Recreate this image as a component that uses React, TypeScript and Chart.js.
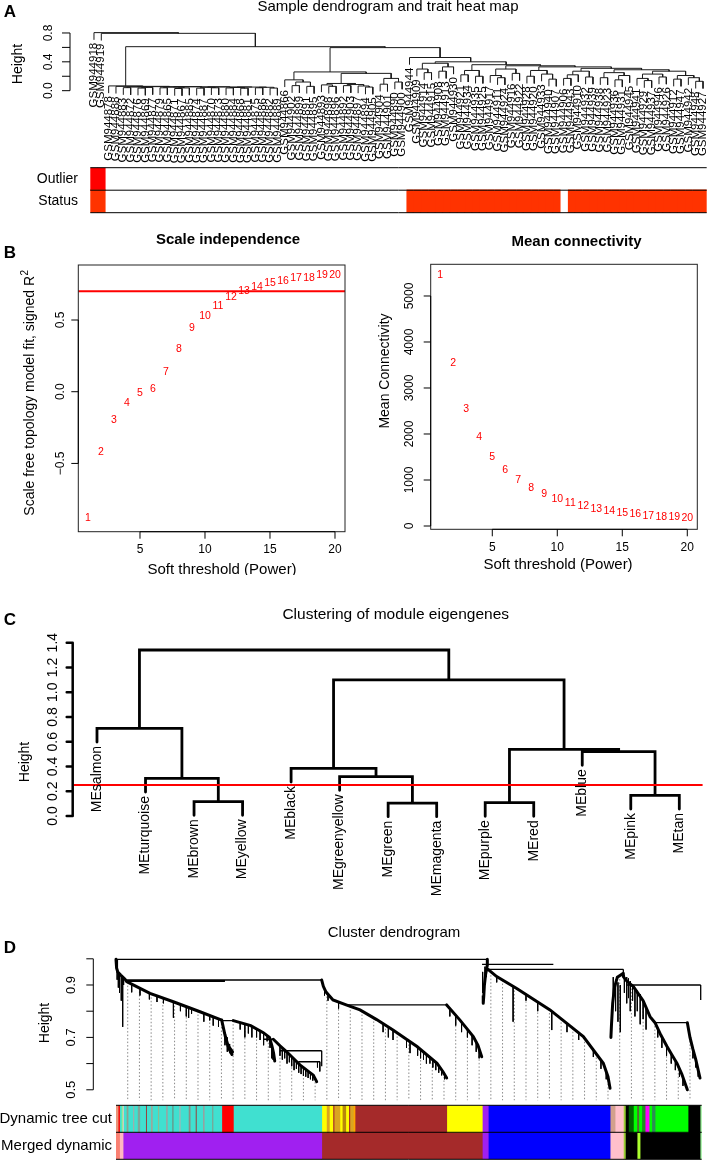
import React, { useEffect, useRef } from "react";
import { Chart, registerables } from "chart.js";

Chart.register(...registerables);

const FONT = '"Liberation Sans", Arial, Helvetica, sans-serif';
Chart.defaults.font.family = FONT;

/* ====================== Panel A data ====================== */
const sampleLabels: string[] = [
  "GSM944918", "GSM944919",
  "GSM944878", "GSM944888", "GSM944883", "GSM944872", "GSM944876", "GSM944869",
  "GSM944877", "GSM944879", "GSM944865", "GSM944871", "GSM944867", "GSM944885",
  "GSM944874", "GSM944887", "GSM944870", "GSM944873", "GSM944880", "GSM944884",
  "GSM944868", "GSM944881", "GSM944875", "GSM944886", "GSM944882", "GSM944889",
  "GSM944866", "GSM944902", "GSM944899", "GSM944891", "GSM944895", "GSM944893",
  "GSM944898", "GSM944896", "GSM944892", "GSM944903", "GSM944897", "GSM944894",
  "GSM944905", "GSM944904", "GSM944901", "GSM944890", "GSM944900",
  "GSM944944", "GSM944909", "GSM944914", "GSM944915", "GSM944908", "GSM944913",
  "GSM944930", "GSM944921", "GSM944934", "GSM944935", "GSM944925", "GSM944917",
  "GSM944911", "GSM944924", "GSM944916", "GSM944922", "GSM944928", "GSM944920",
  "GSM944933", "GSM944940", "GSM944907", "GSM944906", "GSM944943", "GSM944910",
  "GSM944932", "GSM944939", "GSM944938", "GSM944923", "GSM944936", "GSM944931",
  "GSM944945", "GSM944941", "GSM944929", "GSM944937", "GSM944946", "GSM944926",
  "GSM944912", "GSM944947", "GSM944942", "GSM944948", "GSM944927",
];

// sample tree: [height, left, right]; leaves are positions in sampleLabels
const sampleTree: any = [0.805, 0, [0.795, 1,
  [0.61,
    [0.066, 2, [0.06, 3, [0.056,
      [0.05, [0.042, 4, 5], [0.045, [0.036, 6, 7], 8]],
      [0.054, [0.048, [0.04, 9, 10], [0.038, [0.03, 11, 12], 13]],
        [0.052, [0.046, [0.035, 14, 15], [0.04, 16, 17]],
          [0.05, [0.044, [0.038, 18, 19], [0.034, 20, 21]],
            [0.047, [0.04, 22, 23], [0.036, 24, 25]]]]]]]],
    [0.597,
      [0.26, [0.15, 26, [0.12, [0.07, 27, 28], [0.06, 29, 30]]],
        [0.24, [0.10, [0.08, 31, [0.06, 32, 33]], [0.085, [0.07, 34, 35], [0.065, 36, [0.05, 37, 38]]]],
          [0.17, [0.09, 39, 40], [0.12, 41, 42]]]],
      [0.46, 43, [0.40,
        [0.38, [0.30, 44, [0.25, 45, 46]], [0.33, [0.27, 47, 48], 49]],
        [0.36, [0.28, [0.22, 50, 51], [0.2, 52, 53]],
          [0.345, [0.30, [0.21, 54, [0.18, 55, 56]], [0.24, 57, 58]],
            [0.33, [0.28, [0.2, 59, 60], [0.23, 61, [0.16, 62, 63]]],
              [0.31, [0.27, [0.22, [0.17, 64, 65], 66], [0.19, 67, 68]],
                [0.29, [0.25, [0.18, 69, 70], [0.21, [0.15, 71, 72], 73]],
                  [0.27, [0.23, [0.17, 74, [0.14, 75, 76]], [0.19, 77, 78]],
                    [0.21, [0.16, 79, 80], [0.18, 81, [0.13, 82, 83]]]]]]]]]]]]]]];
const sampleHang = 0.1;
const sampleAxisTicks = [0, 0.2, 0.4, 0.6, 0.8];
const sampleAxisLabels = ["0.0", "", "0.4", "", "0.8"];

const traitRows = ["Outlier", "Status"];
const sampleOutlier = [
  1, 1,
  0, 0, 0, 0, 0, 0, 0, 0, 0, 0, 0, 0, 0, 0, 0, 0, 0, 0, 0, 0, 0, 0, 0, 0,
  0, 0, 0, 0, 0, 0, 0, 0, 0, 0, 0, 0, 0, 0, 0, 0, 0,
  0, 0, 0, 0, 0, 0, 0, 0, 0, 0, 0, 0, 0, 0, 0, 0, 0, 0, 0, 0, 0,
  0, 0, 0, 0, 0, 0, 0, 0, 0, 0, 0, 0, 0, 0, 0, 0, 0, 0, 0, 0,
];
const sampleStatus = [
  1, 1,
  0, 0, 0, 0, 0, 0, 0, 0, 0, 0, 0, 0, 0, 0, 0, 0, 0, 0, 0, 0, 0, 0, 0, 0,
  0, 0, 0, 0, 0, 0, 0, 0, 0, 0, 0, 0, 0, 0, 0, 0, 0,
  1, 1, 1, 1, 1, 1, 1, 1, 1, 1, 1, 1, 1, 1, 1, 1, 1, 1, 1, 1, 1,
  0, 1, 1, 1, 1, 1, 1, 1, 1, 1, 1, 1, 1, 1, 1, 1, 1, 1, 1, 1,
];
const outlierColor = "#FF0000";
const statusColor = "#FF3300";

/* ====================== Panel B data ====================== */
const powers = [1, 2, 3, 4, 5, 6, 7, 8, 9, 10, 11, 12, 13, 14, 15, 16, 17, 18, 19, 20];
const scaleFreeFit = [-0.88, -0.42, -0.2, -0.08, -0.01, 0.02, 0.14, 0.3, 0.44, 0.53,
  0.6, 0.66, 0.7, 0.73, 0.76, 0.77, 0.79, 0.795, 0.81, 0.815];
const meanConnectivity = [5457, 3551, 2543, 1928, 1507, 1217, 1000, 819, 688, 594,
  507, 435, 377, 326, 290, 254, 225, 203, 188, 167];
const fitCutoff = 0.7;
const powerTicks = [5, 10, 15, 20];
const fitTicks = [-0.5, 0, 0.5];
const fitTickLabels = ["\u22120.5", "0.0", "0.5"];
const connTicks = [0, 1000, 2000, 3000, 4000, 5000];

/* ====================== Panel C data ====================== */
const moduleLabels = ["MEsalmon", "MEturquoise", "MEbrown", "MEyellow", "MEblack", "MEgreenyellow",
  "MEgreen", "MEmagenta", "MEpurple", "MEred", "MEblue", "MEpink", "MEtan"];
const moduleTree: any = [1.341,
  [0.708, 0, [0.304, 1, [0.116, 2, 3]]],
  [1.099,
    [0.385, 4, [0.318, 5, [0.105, 6, 7]]],
    [0.539, [0.108, 8, 9], [0.52, 10, [0.167, 11, 12]]]]];
const moduleHang = 0.11;
const mergeCutHeight = 0.25;
const moduleAxisTicks = [0, 0.2, 0.4, 0.6, 0.8, 1.0, 1.2, 1.4];
const moduleAxisLabels = ["0.0", "0.2", "0.4", "0.6", "0.8", "1.0", "1.2", "1.4"];

/* ====================== Panel D data ====================== */
// gene index (0..1000 along the leaf order), height
const geneMergeLines: number[][][] = [
  [[0, 0.998], [634, 0.998]],
  [[15.4, 0.919], [351.2, 0.919]],
  [[18, 0.914], [186, 0.914]],
  [[180.5, 0.764], [200.3, 0.764]],
  [[251.5, 0.693], [268.6, 0.693]],
  [[280, 0.649], [351.2, 0.649]],
  [[311.3, 0.607], [348.3, 0.607]],
  [[351.2, 0.649], [351.2, 0.59]],
  [[393, 0.824], [564.6, 0.824]],
  [[625, 0.979], [746.7, 0.979]],
  [[630, 0.96], [866.2, 0.96]],
  [[866.2, 0.96], [866.2, 0.932]],
  [[872, 0.9], [998.3, 0.9]],
  [[998.3, 0.9], [998.3, 0.843]],
  [[920.3, 0.756], [975.5, 0.756]],
];
const geneBranchLines: number[][][] = [
  [[0, 0.998], [1, 0.965], [3, 0.95], [8, 0.938], [15.4, 0.922], [18.3, 0.913]],
  [[18.3, 0.913], [58.1, 0.868], [97.8, 0.836], [143.4, 0.798], [180.5, 0.766]],
  [[180.5, 0.766], [184, 0.73], [188, 0.69], [193, 0.655], [198, 0.635]],
  [[181, 0.76], [186, 0.71], [191, 0.67], [199, 0.645]],
  [[200.3, 0.764], [230, 0.745], [251.5, 0.718], [262, 0.7], [266, 0.67], [269, 0.64], [271, 0.61]],
  [[268.6, 0.693], [280, 0.668], [291.4, 0.645], [314, 0.595], [336.9, 0.556], [342.6, 0.531]],
  [[351.2, 0.919], [354, 0.895], [358.6, 0.873], [370.5, 0.843], [393, 0.824], [416.6, 0.805],
    [445, 0.768], [472.9, 0.728], [513.9, 0.665], [548.1, 0.601], [558, 0.57], [564.6, 0.545]],
  [[564.6, 0.824], [587.3, 0.766], [610, 0.703], [618, 0.67], [624.4, 0.626]],
  [[634, 0.998], [634, 0.976], [631, 0.94], [629, 0.9], [628, 0.86], [627, 0.83]],
  [[635.2, 0.96], [650, 0.932], [684.2, 0.887], [741, 0.805], [797.9, 0.703], [832, 0.601],
    [840, 0.55], [843.5, 0.506]],
  [[866.2, 0.945], [856, 0.93], [851, 0.89], [848, 0.83], [846, 0.75], [845, 0.7]],
  [[866.2, 0.932], [872, 0.915], [883.3, 0.894], [900, 0.84], [911.8, 0.779], [920.3, 0.756]],
  [[920.3, 0.756], [930, 0.71], [940.8, 0.665], [950, 0.63], [957.9, 0.601], [966, 0.56], [975.5, 0.5]],
  [[975.5, 0.756], [980, 0.7], [985, 0.655], [990, 0.614], [997.1, 0.545]],
];
// [gene index, top height, bottom height]
const geneHangs: number[][] = [
  [2, 0.96, 0.92], [4, 0.948, 0.89], [6, 0.944, 0.87], [9, 0.937, 0.84], [11.4, 0.932, 0.74], [13, 0.928, 0.9],
  [26.8, 0.905, 0.872], [41, 0.888, 0.86], [57, 0.87, 0.845], [70, 0.858, 0.835], [81, 0.85, 0.83],
  [98, 0.836, 0.775], [110, 0.828, 0.8], [120, 0.82, 0.78], [124, 0.817, 0.774], [129, 0.811, 0.79],
  [150, 0.793, 0.76], [160, 0.785, 0.765], [166, 0.78, 0.745], [175, 0.771, 0.74],
  [186, 0.72, 0.67], [190, 0.7, 0.645], [194, 0.675, 0.64],
  [212, 0.757, 0.73], [220, 0.751, 0.7], [226, 0.747, 0.715], [232, 0.743, 0.7], [240, 0.733, 0.7],
  [246, 0.727, 0.69], [252, 0.718, 0.67], [258, 0.708, 0.685], [263, 0.7, 0.66], [266, 0.672, 0.62],
  [268, 0.655, 0.615],
  [280, 0.668, 0.63], [284, 0.66, 0.615], [288, 0.652, 0.62], [292, 0.643, 0.6], [296, 0.635, 0.605],
  [300, 0.626, 0.59], [304, 0.617, 0.575], [308, 0.609, 0.58], [312, 0.6, 0.565], [316, 0.592, 0.56],
  [320, 0.585, 0.553], [324, 0.578, 0.55], [328, 0.571, 0.545], [332, 0.564, 0.54], [336, 0.558, 0.535],
  [344, 0.607, 0.585], [348, 0.607, 0.57],
  [356, 0.886, 0.86], [362, 0.862, 0.84], [380, 0.837, 0.81], [456, 0.752, 0.72], [465, 0.74, 0.7],
  [473, 0.728, 0.69], [496, 0.692, 0.66], [502, 0.683, 0.64], [515, 0.663, 0.63], [520, 0.655, 0.62],
  [525, 0.647, 0.615], [530, 0.638, 0.6], [536, 0.627, 0.6], [541, 0.617, 0.585], [546, 0.606, 0.575],
  [551, 0.593, 0.565], [556, 0.577, 0.555], [561, 0.56, 0.54],
  [570, 0.81, 0.78], [580, 0.784, 0.745], [590, 0.758, 0.72], [600, 0.731, 0.7], [608, 0.709, 0.67],
  [615, 0.683, 0.645], [620, 0.66, 0.62],
  [626, 0.95, 0.87], [630, 0.97, 0.9], [632, 0.96, 0.93],
  [650, 0.932, 0.91], [678, 0.895, 0.76], [700, 0.865, 0.84], [720, 0.835, 0.8], [744, 0.8, 0.728],
  [770, 0.752, 0.72], [790, 0.717, 0.69], [815, 0.653, 0.625], [828, 0.61, 0.58], [837, 0.57, 0.54],
  [849, 0.93, 0.85], [853, 0.92, 0.8], [857, 0.91, 0.76], [861, 0.9, 0.72],
  [868, 0.94, 0.87], [872, 0.93, 0.83], [875, 0.925, 0.85], [878, 0.915, 0.8], [882, 0.9, 0.84],
  [886, 0.887, 0.78], [890, 0.878, 0.8], [895, 0.865, 0.75], [900, 0.84, 0.77], [905, 0.815, 0.73],
  [925, 0.733, 0.7], [932, 0.7, 0.66], [940, 0.668, 0.63], [948, 0.638, 0.6], [955, 0.611, 0.575],
  [962, 0.58, 0.55], [968, 0.545, 0.515],
  [985, 0.655, 0.62], [990, 0.614, 0.585], [994, 0.58, 0.55],
];
const guideGenes = [20, 40, 60, 80, 100, 120, 140, 160, 180, 200, 220, 240, 260, 280, 300, 320, 340,
  360, 380, 400, 420, 440, 460, 480, 500, 520, 540, 560, 580, 600, 620, 640, 660, 680, 700, 720, 740,
  760, 780, 800, 820, 840, 860, 880, 900, 920, 940, 960, 980];
const guideBottom = 0.46;
const geneAxisTicks = [0.5, 0.6, 0.7, 0.8, 0.9, 1.0];
const geneAxisLabels = ["0.5", "", "0.7", "", "0.9", ""];

const colorRows = ["Dynamic tree cut", "Merged dynamic"];
const dynamicColors = ["#E9967A", "#FF0000", "#40E0D0", "#90EE90", "#FFC0CB", "#40E0D0", "#8E9E8E", "#40E0D0",
  "#A9A9A9", "#40E0D0", "#7FA59A", "#40E0D0", "#A52A2A", "#40E0D0", "#9AA89C", "#40E0D0", "#8FBC8F",
  "#40E0D0", "#A0A0A0", "#40E0D0", "#6E8B7E", "#40E0D0", "#B0B0B0", "#40E0D0", "#8B8B83", "#40E0D0",
  "#A52A2A", "#40E0D0", "#9C9C9C", "#40E0D0", "#7F9F8F", "#40E0D0",
  "#FF0000", "#40E0D0",
  "#FFFF00", "#DAA520", "#FFFF00", "#A52A2A", "#DAA520", "#FFFF00", "#B8860B", "#FFFF00", "#A52A2A",
  "#DAA520", "#FFA500",
  "#A52A2A", "#FFFF00", "#A020F0", "#0000FF", "#D2A08C", "#FFC0CB",
  "#9ACD32", "#000000", "#006400", "#00FF00", "#556B2F", "#00FF00", "#228B22", "#FF00FF",
  "#00FF00", "#2E8B57", "#00FF00", "#000000", "#90EE90"];
const dynamicWidths = [3.5, 2.5, 3, 2, 1.5, 5, 3, 8, 2, 6, 4, 10, 1.5, 7, 3, 9, 2, 12, 2.5, 8, 2, 10, 2, 14,
  3, 9, 1.5, 11, 2.5, 13, 2, 15,
  19.8, 150.9,
  8, 5, 6, 2, 10, 4, 6, 5, 2, 6, 2.8,
  156.6, 60.7, 10.2, 208, 8.5, 14.2,
  3.4, 5.2, 8.5, 5.8, 3.4, 5.1, 5.7, 6.8,
  4.5, 5.7, 56.3, 20.5, 2.9];
const mergedColors = ["#FA8072", "#FFB6C1", "#A020F0", "#A52A2A", "#A020F0", "#0000FF", "#FFC0CB",
  "#9ACD32", "#000000", "#ADFF2F", "#000000", "#90EE90"];
const mergedWidths = [6, 6, 339.2, 274.1, 10.2, 208, 22.7, 3.4, 20, 5.1, 102.4, 2.9];

/* ====================== helpers ====================== */
type Tree = number | [number, Tree, Tree];
function layoutTree(tree: Tree, hang: number) {
  const pts: { x: number; y: number | null }[] = [];
  const leafEnd: number[] = [];
  const walk = (n: Tree): { x: number; h: number | null } => {
    if (typeof n === "number") return { x: n, h: null };
    const [h, l, r] = n;
    const a = walk(l);
    const b = walk(r);
    const ya = a.h === null ? h - hang : a.h;
    const yb = b.h === null ? h - hang : b.h;
    if (a.h === null) leafEnd[a.x] = ya;
    if (b.h === null) leafEnd[b.x] = yb;
    pts.push({ x: a.x, y: ya }, { x: a.x, y: h }, { x: b.x, y: h }, { x: b.x, y: yb }, { x: b.x, y: null });
    return { x: (a.x + b.x) / 2, h };
  };
  walk(tree);
  return { pts, leafEnd };
}
const linesToPts = (lines: number[][][]) =>
  lines.flatMap((l) => [...l.map(([x, y]) => ({ x, y } as any)), { x: l[l.length - 1][0], y: null }]);
const hangsToPts = (hs: number[][]) => hs.flatMap(([x, t, b]) => [{ x, y: t }, { x, y: b }, { x, y: null as any }]);
function levelAt(g: number, lines: number[][][]) {
  let best = Infinity;
  for (const line of lines)
    for (let k = 0; k < line.length - 1; k++) {
      const [x1, y1] = line[k];
      const [x2, y2] = line[k + 1];
      const lo = Math.min(x1, x2), hi = Math.max(x1, x2);
      if (hi > lo && g >= lo && g <= hi) {
        const y = y1 + ((y2 - y1) * (g - x1)) / (x2 - x1);
        if (y < best) best = y;
      }
    }
  return best;
}

const UP = -Math.PI / 2;
function text(ctx: any, s: string, x: number, y: number, o: any) {
  ctx.save();
  ctx.font = `${o.bold ? "bold " : ""}${o.size}px ${FONT}`;
  ctx.fillStyle = o.color ?? "#000";
  ctx.textAlign = o.align ?? "center";
  ctx.textBaseline = o.baseline ?? "middle";
  ctx.translate(x, y);
  if (o.rot) ctx.rotate(o.rot);
  ctx.fillText(s, 0, 0);
  ctx.restore();
}
function axisY(ctx: any, scale: any, x: number, ticks: number[], labels: string[], o: any) {
  const p = ticks.map((t) => scale.getPixelForValue(t));
  ctx.save();
  ctx.strokeStyle = "#000";
  ctx.lineWidth = o.lw ?? 1;
  ctx.lineCap = o.cap ?? "butt";
  ctx.beginPath();
  ctx.moveTo(x, p[0]);
  ctx.lineTo(x, p[p.length - 1]);
  for (const py of p) { ctx.moveTo(x, py); ctx.lineTo(x - o.tick, py); }
  ctx.stroke();
  ctx.restore();
  labels.forEach((s, i) => { if (s) text(ctx, s, o.labelX, p[i], { size: o.size, rot: UP }); });
}
function axisX(ctx: any, scale: any, y: number, ticks: number[], labels: string[], o: any) {
  const p = ticks.map((t) => scale.getPixelForValue(t));
  ctx.save();
  ctx.strokeStyle = "#000";
  ctx.lineWidth = 1;
  ctx.beginPath();
  ctx.moveTo(p[0], y);
  ctx.lineTo(p[p.length - 1], y);
  for (const px of p) { ctx.moveTo(px, y); ctx.lineTo(px, y + o.tick); }
  ctx.stroke();
  ctx.restore();
  labels.forEach((s, i) => text(ctx, s, p[i], o.labelY, { size: o.size }));
}
function box(ctx: any, a: any) {
  ctx.save();
  ctx.strokeStyle = "#222";
  ctx.lineWidth = 1;
  ctx.strokeRect(a.left, a.top, a.right - a.left, a.bottom - a.top);
  ctx.restore();
}
const overlay = (draw: (ctx: any, chart: any) => void) => ({
  id: "overlay",
  afterDraw(chart: any) { draw(chart.ctx, chart); },
});
// row separators + row names for colour strips (names placed via the category scale)
const rowDecor = (labelRight: number, size: number) => ({
  id: "rowDecor",
  afterDatasetsDraw(chart: any) {
    const { ctx, chartArea: a } = chart;
    const labels: string[] = chart.data.labels;
    const n = labels.length;
    ctx.save();
    ctx.strokeStyle = "#000";
    ctx.lineWidth = 1;
    ctx.beginPath();
    for (let i = 0; i <= n; i++) {
      const yy = a.top + ((a.bottom - a.top) * i) / n;
      ctx.moveTo(a.left, yy);
      ctx.lineTo(a.right, yy);
    }
    ctx.stroke();
    ctx.restore();
    labels.forEach((s, i) =>
      text(ctx, s, labelRight, chart.scales.y.getPixelForValue(i), { size, align: "right" }));
  },
});
const common = (padding: any) => ({
  animation: false,
  responsive: false,
  events: [],
  layout: { padding },
  plugins: { legend: { display: false }, tooltip: { enabled: false }, title: { display: false } },
});
const lineDs = (data: any[], color: string, width: number, extra: any = {}) => ({
  data, showLine: true, borderColor: color, borderWidth: width, pointRadius: 0, clip: false,
  borderCapStyle: "round", ...extra,
});

/* ====================== chart configs ====================== */
function configA1(top: number) {
  const { pts, leafEnd } = layoutTree(sampleTree, sampleHang);
  const Y = (v: number) => v - top;
  return {
    type: "scatter",
    data: { datasets: [lineDs(pts, "#1a1a1a", 1, { borderCapStyle: "butt" })] },
    options: {
      ...common({ left: 90.3, right: 2.3, top: 20, bottom: 70 }),
      scales: {
        x: { type: "linear", min: -0.5, max: sampleLabels.length - 0.5, display: false },
        y: { type: "linear", min: -0.06, max: 0.98, display: false },
      },
    },
    plugins: [overlay((ctx, chart) => {
      const { x, y } = chart.scales;
      text(ctx, "Sample dendrogram and trait heat map", 388, Y(6.5), { size: 15 });
      text(ctx, "A", 10, Y(12), { size: 17, bold: true });
      text(ctx, "Height", 18, Y(64), { size: 14, rot: UP });
      axisY(ctx, y, 70, sampleAxisTicks, sampleAxisLabels, { tick: 8, labelX: 49, size: 12 });
      sampleLabels.forEach((s, i) => {
        text(ctx, s, x.getPixelForValue(i), y.getPixelForValue(leafEnd[i]) + 3,
          { size: 11.5, rot: UP, align: "right" });
      });
    })],
  };
}

function configA2() {
  return {
    type: "bar",
    data: {
      labels: traitRows,
      datasets: sampleLabels.map((s, i) => ({
        label: s,
        data: [1, 1],
        backgroundColor: [sampleOutlier[i] ? outlierColor : "#FFFFFF", sampleStatus[i] ? statusColor : "#FFFFFF"],
        borderWidth: 0,
        inflateAmount: 0.6,
        categoryPercentage: 1,
        barPercentage: 1,
      })),
    },
    options: {
      ...common({ left: 90.3, right: 2.3, top: 7.7, bottom: 7.3 }),
      indexAxis: "y",
      scales: {
        x: { type: "linear", stacked: true, min: 0, max: sampleLabels.length, display: false },
        y: { type: "category", stacked: true, display: false },
      },
    },
    plugins: [rowDecor(78, 14)],
  };
}

function configBLeft(top: number) {
  const Y = (v: number) => v - top;
  const xmin = 0.254, xmax = 20.77;
  return {
    type: "scatter",
    data: {
      datasets: [
        lineDs([{ x: xmin, y: fitCutoff }, { x: xmax, y: fitCutoff }], "#FF0000", 2, { borderCapStyle: "butt" }),
        { data: powers.map((p, i) => ({ x: p, y: scaleFreeFit[i] })), pointRadius: 0, showLine: false },
      ],
    },
    options: {
      ...common({ left: 78.3, right: 364, top: 40, bottom: 43.3 }),
      scales: {
        x: { type: "linear", min: xmin, max: xmax, display: false },
        y: { type: "linear", min: -0.976, max: 0.8835, display: false },
      },
    },
    plugins: [overlay((ctx, chart) => {
      const a = chart.chartArea;
      const { x, y } = chart.scales;
      box(ctx, a);
      axisX(ctx, x, a.bottom, powerTicks, powerTicks.map(String), { tick: 7, labelY: Y(550), size: 12 });
      axisY(ctx, y, a.left, fitTicks, fitTickLabels, { tick: 7, labelX: 61, size: 12 });
      chart.getDatasetMeta(1).data.forEach((el: any, i: number) =>
        text(ctx, String(powers[i]), el.x, el.y, { size: 10.5, color: "#FF0000" }));
      text(ctx, "Scale independence", 228, Y(240), { size: 15, bold: true });
      text(ctx, "B", 10, Y(253), { size: 17, bold: true });
      text(ctx, "Soft threshold (Power)", 222, Y(570), { size: 15 });
      // y label with superscript
      ctx.save();
      ctx.translate(30, Y(393));
      ctx.rotate(UP);
      ctx.fillStyle = "#000";
      ctx.textBaseline = "middle";
      ctx.font = `14px ${FONT}`;
      const main = "Scale free topology model fit, signed R";
      const w1 = ctx.measureText(main).width;
      ctx.font = `10px ${FONT}`;
      const w2 = ctx.measureText("2").width;
      const start = -(w1 + w2) / 2;
      ctx.font = `14px ${FONT}`;
      ctx.textAlign = "left";
      ctx.fillText(main, start, 0);
      ctx.font = `10px ${FONT}`;
      ctx.fillText("2", start + w1 + 0.5, -5);
      ctx.restore();
    })],
  };
}

function configBRight(top: number) {
  const Y = (v: number) => v - top;
  return {
    type: "scatter",
    data: {
      datasets: [{ data: powers.map((p, i) => ({ x: p, y: meanConnectivity[i] })), pointRadius: 0, showLine: false }],
    },
    options: {
      ...common({ left: 430.7, right: 11.7, top: 39.3, bottom: 45.7 }),
      scales: {
        x: { type: "linear", min: 0.262, max: 20.77, display: false },
        y: { type: "linear", min: -71.7, max: 5689, display: false },
      },
    },
    plugins: [overlay((ctx, chart) => {
      const a = chart.chartArea;
      const { x, y } = chart.scales;
      box(ctx, a);
      axisX(ctx, x, a.bottom, powerTicks, powerTicks.map(String), { tick: 7, labelY: Y(548), size: 12 });
      axisY(ctx, y, a.left, connTicks, connTicks.map(String), { tick: 7, labelX: 410, size: 12 });
      chart.getDatasetMeta(0).data.forEach((el: any, i: number) =>
        text(ctx, String(powers[i]), el.x, el.y, { size: 10.5, color: "#FF0000" }));
      text(ctx, "Mean connectivity", 576.5, Y(241.7), { size: 15, bold: true });
      text(ctx, "Mean Connectivity", 385.5, Y(371), { size: 14, rot: UP });
      text(ctx, "Soft threshold (Power)", 558, Y(565), { size: 15 });
    })],
  };
}

function configC(top: number) {
  const { pts, leafEnd } = layoutTree(moduleTree, moduleHang);
  const Y = (v: number) => v - top;
  const xmin = -0.48, xmax = moduleLabels.length - 1 + 0.48;
  return {
    type: "scatter",
    data: {
      datasets: [
        lineDs([{ x: xmin, y: mergeCutHeight }, { x: xmax, y: mergeCutHeight }], "#FF0000", 2, { borderCapStyle: "butt" }),
        lineDs(pts, "#000000", 2.8),
      ],
    },
    options: {
      ...common({ left: 73.7, right: 6.4, top: 55, bottom: 78 }),
      scales: {
        x: { type: "linear", min: xmin, max: xmax, display: false },
        y: { type: "linear", min: -0.048, max: 1.4216, display: false },
      },
    },
    plugins: [overlay((ctx, chart) => {
      const { x, y } = chart.scales;
      text(ctx, "Clustering of module eigengenes", 395.7, Y(614.3), { size: 15.5 });
      text(ctx, "C", 10, Y(620), { size: 17, bold: true });
      text(ctx, "Height", 25, Y(762), { size: 14, rot: UP });
      axisY(ctx, y, 72.7, moduleAxisTicks, moduleAxisLabels, { tick: 6, labelX: 53, size: 14, lw: 2.5, cap: "round" });
      moduleLabels.forEach((s, i) => {
        text(ctx, s, x.getPixelForValue(i), y.getPixelForValue(leafEnd[i]) + 4, { size: 14, rot: UP, align: "right" });
      });
    })],
  };
}

function configD1(top: number) {
  const Y = (v: number) => v - top;
  const allLines = [...geneMergeLines, ...geneBranchLines];
  const guides = guideGenes.flatMap((g) => {
    const lv = levelAt(g, allLines);
    return isFinite(lv) ? [{ x: g, y: lv }, { x: g, y: guideBottom }, { x: g, y: null as any }] : [];
  });
  const total = dynamicWidths.reduce((s, v) => s + v, 0);
  return {
    type: "scatter",
    data: {
      datasets: [
        lineDs(linesToPts(geneMergeLines), "#000000", 1.3, { borderCapStyle: "butt" }),
        lineDs(linesToPts(geneBranchLines), "#000000", 3),
        lineDs(hangsToPts(geneHangs), "#000000", 1, { borderCapStyle: "butt" }),
        lineDs(guides, "#8a8a8a", 1, { borderDash: [1.5, 2], borderCapStyle: "butt" }),
      ],
    },
    options: {
      ...common({ left: 116, right: 7.3, top: 55, bottom: 0 }),
      scales: {
        x: { type: "linear", min: 0, max: total, display: false },
        y: { type: "linear", min: 0.4534, max: 1.0145, display: false },
      },
    },
    plugins: [overlay((ctx, chart) => {
      const { y } = chart.scales;
      text(ctx, "Cluster dendrogram", 394, Y(933), { size: 15 });
      text(ctx, "D", 10, Y(948), { size: 17, bold: true });
      text(ctx, "Height", 45, Y(1023), { size: 14, rot: UP });
      axisY(ctx, y, 93.3, geneAxisTicks, geneAxisLabels, { tick: 7, labelX: 71.7, size: 13 });
    })],
  };
}

function configD2() {
  const total = dynamicWidths.reduce((s, v) => s + v, 0);
  const seg = (c: string, w: number, row: number) => ({
    data: row === 0 ? [w, null] : [null, w],
    backgroundColor: c, borderWidth: 0, inflateAmount: 0.4, categoryPercentage: 1, barPercentage: 1,
  });
  return {
    type: "bar",
    data: {
      labels: colorRows,
      datasets: [
        ...dynamicColors.map((c, i) => seg(c, dynamicWidths[i], 0)),
        ...mergedColors.map((c, i) => seg(c, mergedWidths[i], 1)),
      ],
    },
    options: {
      ...common({ left: 116, right: 7.3, top: 3.3, bottom: 0.7 }),
      indexAxis: "y",
      scales: {
        x: { type: "linear", stacked: true, min: 0, max: total, display: false },
        y: { type: "category", stacked: true, display: false },
      },
    },
    plugins: [rowDecor(112, 15)],
  };
}

/* ====================== components ====================== */
function ChartCanvas({ top, height, make }: { top: number; height: number; make: () => any }) {
  const ref = useRef<HTMLCanvasElement>(null);
  useEffect(() => {
    const chart = new Chart(ref.current as HTMLCanvasElement, make());
    return () => chart.destroy();
  }, []);
  return (
    <canvas
      ref={ref}
      width={709}
      height={height}
      style={{ position: "absolute", left: 0, top, width: 709, height, display: "block" }}
    />
  );
}

export default function App() {
  useEffect(() => {
    document.body.style.overflow = "hidden";
  }, []);
  return (
    <div style={{ position: "absolute", left: 0, top: 0, width: 709, height: 1160, background: "#fff", overflow: "hidden" }}>
      <ChartCanvas top={0} height={165} make={() => configA1(0)} />
      <ChartCanvas top={160} height={60} make={() => configA2()} />
      <ChartCanvas top={225} height={350} make={() => configBLeft(225)} />
      <ChartCanvas top={225} height={350} make={() => configBRight(225)} />
      <ChartCanvas top={585} height={315} make={() => configC(585)} />
      <ChartCanvas top={900} height={202} make={() => configD1(900)} />
      <ChartCanvas top={1102} height={58} make={() => configD2()} />
    </div>
  );
}
